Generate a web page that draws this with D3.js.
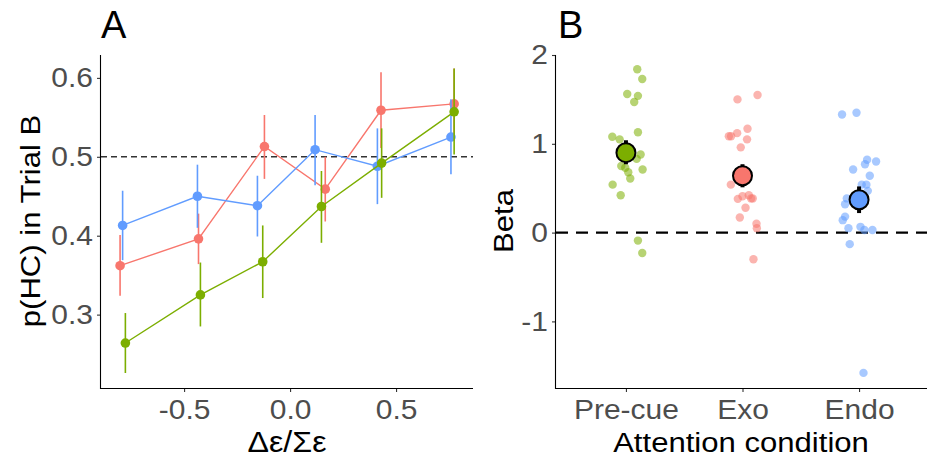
<!DOCTYPE html>
<html><head><meta charset="utf-8">
<script src="https://cdn.jsdelivr.net/npm/d3@7"></script>
<style>body{margin:0;background:#fff}svg{display:block}text{font-family:"Liberation Sans",Arial,sans-serif}</style>
</head><body><svg id="c" width="927" height="459"></svg>
<script>
// ---------- Data ----------
const conditions = ["Pre-cue", "Exo", "Endo"];
const condColors = ["#7CAE00", "#F8766D", "#619CFF"];

// Panel A: p(HC) in Trial B by Δε/Σε (per condition)
const preX  = [-0.777, -0.423, -0.129, 0.148, 0.432, 0.774];
const preY  = [0.264, 0.325, 0.367, 0.437, 0.492, 0.557];
const preLo = [0.226, 0.285, 0.321, 0.391, 0.448, 0.503];
const preHi = [0.302, 0.366, 0.413, 0.482, 0.536, 0.612];

const exoX  = [-0.802, -0.432, -0.121, 0.166, 0.429, 0.774];
const exoY  = [0.362, 0.396, 0.513, 0.459, 0.559, 0.567];
const exoLo = [0.324, 0.364, 0.472, 0.418, 0.511, 0.525];
const exoHi = [0.401, 0.428, 0.553, 0.500, 0.607, 0.612];

const endoX  = [-0.790, -0.437, -0.154, 0.118, 0.412, 0.759];
const endoY  = [0.413, 0.450, 0.438, 0.509, 0.488, 0.525];
const endoLo = [0.369, 0.410, 0.399, 0.464, 0.440, 0.478];
const endoHi = [0.457, 0.490, 0.476, 0.553, 0.536, 0.573];

const ticksAx = [-0.5, 0.0, 0.5];
const ticksAy = [0.3, 0.4, 0.5, 0.6];

// Panel B: individual betas (value, jitter offset in category units)
const preBeta  = [1.84, 1.73, 1.56, 1.54, 1.47, 1.13, 1.08, 1.05, 0.88, 0.83, 0.75, 0.73, 0.68, 0.71, 0.61, 0.54, 0.42, -0.09, -0.23];
const preJit   = [0.097, 0.140, 0.011, 0.103, 0.071, 0.103, -0.117, -0.054, 0.126, 0.092, -0.040, -0.006, 0.020, 0.143, 0.037, -0.114, -0.045, 0.103, 0.140];
const exoBeta  = [1.50, 1.55, 1.17, 1.12, 1.085, 1.085, 1.05, 0.96, 0.54, 0.41, 0.42, 0.385, 0.385, 0.38, 0.28, 0.17, 0.10, 0.05, -0.30];
const exoJit   = [-0.043, 0.129, 0.043, -0.046, -0.117, -0.098, 0.039, -0.015, -0.100, 0.000, 0.054, 0.074, 0.088, -0.040, 0.026, -0.023, 0.120, 0.123, 0.094];
const endoBeta = [1.33, 1.35, 0.82, 0.80, 0.77, 0.71, 0.64, 0.54, 0.54, 0.47, 0.385, 0.32, 0.18, 0.14, 0.05, 0.065, 0.03, 0.03, -0.13, -1.58];
const endoJit  = [-0.146, -0.022, 0.069, 0.146, 0.051, -0.051, 0.092, 0.023, 0.063, 0.075, -0.105, -0.120, -0.120, -0.140, -0.091, 0.012, 0.046, 0.115, -0.080, 0.038];

const betaMean = [0.90, 0.64, 0.37];
const betaLo   = [0.77, 0.51, 0.22];
const betaHi   = [1.04, 0.77, 0.52];
const ticksBy  = [-1, 0, 1, 2];

// ---------- Drawing ----------
const svg = d3.select("#c");
const SX = 1.11; // horizontal glyph stretch
const hyph = f => (d => f(d).replace("\u2212", "-"));

function styleAxis(g, isLeft, pad) {
  g.select(".domain").remove();
  g.selectAll(".tick line").attr("stroke", "#333").attr("stroke-width", 1.1);
  g.selectAll(".tick text").attr("fill", "#4D4D4D").attr("font-size", 27)
    .attr("transform", `scale(${SX},1)`);
  if (isLeft) g.selectAll(".tick text").attr("x", -pad / SX);
}

function hText(x, y, str, size, anchor) {
  svg.append("text").attr("transform", `translate(${x},${y}) scale(${SX},1)`)
    .attr("text-anchor", anchor || "middle").attr("font-size", size).attr("fill", "#000").text(str);
}

// ----- Panel A -----
const xA = d3.scaleLinear().domain([-0.892, 0.863]).range([101, 473]);
const yA = d3.scaleLinear().domain([0.207, 0.629]).range([388, 55]);

svg.append("g").attr("transform", "translate(0,388)")
  .call(d3.axisBottom(xA).tickValues(ticksAx).tickFormat(hyph(d3.format(".1f"))).tickSize(4).tickPadding(8))
  .call(g => styleAxis(g, false));
svg.append("g").attr("transform", "translate(101,0)")
  .call(d3.axisLeft(yA).tickValues(ticksAy).tickFormat(hyph(d3.format(".1f"))).tickSize(4).tickPadding(4))
  .call(g => styleAxis(g, true, 8));
svg.append("line").attr("x1", 101).attr("x2", 473).attr("y1", 388.5).attr("y2", 388.5).attr("stroke", "#000").attr("stroke-width", 1.1);
svg.append("line").attr("x1", 100.5).attr("x2", 100.5).attr("y1", 55).attr("y2", 389).attr("stroke", "#000").attr("stroke-width", 1.1);

svg.append("line").attr("x1", 101).attr("x2", 473).attr("y1", yA(0.5)).attr("y2", yA(0.5))
  .attr("stroke", "#333").attr("stroke-width", 1.4).attr("stroke-dasharray", "6,4");

const seriesA = [
  {x: exoX, y: exoY, lo: exoLo, hi: exoHi, c: condColors[1]},
  {x: endoX, y: endoY, lo: endoLo, hi: endoHi, c: condColors[2]},
  {x: preX, y: preY, lo: preLo, hi: preHi, c: condColors[0]}
];
const line = d3.line().x(d => xA(d[0])).y(d => yA(d[1]));
seriesA.forEach(s => {
  const pts = s.x.map((v, i) => [v, s.y[i], s.lo[i], s.hi[i]]);
  const g = svg.append("g");
  g.selectAll("line.eb").data(pts).join("line").attr("class", "eb")
    .attr("x1", d => xA(d[0])).attr("x2", d => xA(d[0]))
    .attr("y1", d => yA(d[2])).attr("y2", d => yA(d[3]))
    .attr("stroke", s.c).attr("stroke-width", 1.6);
  g.append("path").attr("d", line(pts)).attr("fill", "none").attr("stroke", s.c).attr("stroke-width", 1.4);
  g.selectAll("circle").data(pts).join("circle")
    .attr("cx", d => xA(d[0])).attr("cy", d => yA(d[1])).attr("r", 4.8).attr("fill", s.c);
});

svg.append("text").attr("x", 101).attr("y", 38).attr("font-size", 38).text("A");
hText(287, 452, "Δε/Σε", 29);
svg.append("text").attr("transform", `translate(40,221) rotate(-90) scale(${SX},1)`)
  .attr("text-anchor", "middle").attr("font-size", 28).text("p(HC) in Trial B");

// ----- Panel B -----
const xB = d3.scalePoint().domain(conditions).range([556, 929]).padding(0.6);
const yB = d3.scaleLinear().domain([-1.75, 2.0]).range([388, 55]);

svg.append("g").attr("transform", "translate(0,388)")
  .call(d3.axisBottom(xB).tickSize(4).tickPadding(8))
  .call(g => styleAxis(g, false));
svg.append("g").attr("transform", "translate(556,0)")
  .call(d3.axisLeft(yB).tickValues(ticksBy).tickFormat(hyph(d3.format("d"))).tickSize(4).tickPadding(4))
  .call(g => styleAxis(g, true, 8));
svg.append("line").attr("x1", 556).attr("x2", 927).attr("y1", 388.5).attr("y2", 388.5).attr("stroke", "#000").attr("stroke-width", 1.1);
svg.append("line").attr("x1", 555.5).attr("x2", 555.5).attr("y1", 55).attr("y2", 389).attr("stroke", "#000").attr("stroke-width", 1.1);

svg.append("line").attr("x1", 556).attr("x2", 927).attr("y1", yB(0)).attr("y2", yB(0))
  .attr("stroke", "#000").attr("stroke-width", 2.4).attr("stroke-dasharray", "12,8");

const indiv = [
  {v: preBeta, j: preJit, k: 0},
  {v: exoBeta, j: exoJit, k: 1},
  {v: endoBeta, j: endoJit, k: 2}
];
const step = xB.step();
indiv.forEach(s => {
  const pts = s.v.map((v, i) => [v, s.j[i]]);
  svg.append("g").selectAll("circle").data(pts).join("circle")
    .attr("cx", d => xB(conditions[s.k]) + d[1] * step)
    .attr("cy", d => yB(d[0])).attr("r", 4.2)
    .attr("fill", condColors[s.k]).attr("fill-opacity", 0.55);
});
const means = conditions.map((c, i) => ({c, m: betaMean[i], lo: betaLo[i], hi: betaHi[i], col: condColors[i]}));
const gm = svg.append("g");
gm.selectAll("line").data(means).join("line")
  .attr("x1", d => xB(d.c)).attr("x2", d => xB(d.c))
  .attr("y1", d => yB(d.lo)).attr("y2", d => yB(d.hi))
  .attr("stroke", "#000").attr("stroke-width", 4);
gm.selectAll("circle").data(means).join("circle")
  .attr("cx", d => xB(d.c)).attr("cy", d => yB(d.m)).attr("r", 9.5)
  .attr("fill", d => d.col).attr("stroke", "#000").attr("stroke-width", 2);

svg.append("text").attr("x", 558).attr("y", 38).attr("font-size", 38).text("B");
hText(741, 452, "Attention condition", 28);
svg.append("text").attr("transform", `translate(513,221) rotate(-90) scale(${SX},1)`)
  .attr("text-anchor", "middle").attr("font-size", 28).text("Beta");
</script></body></html>
